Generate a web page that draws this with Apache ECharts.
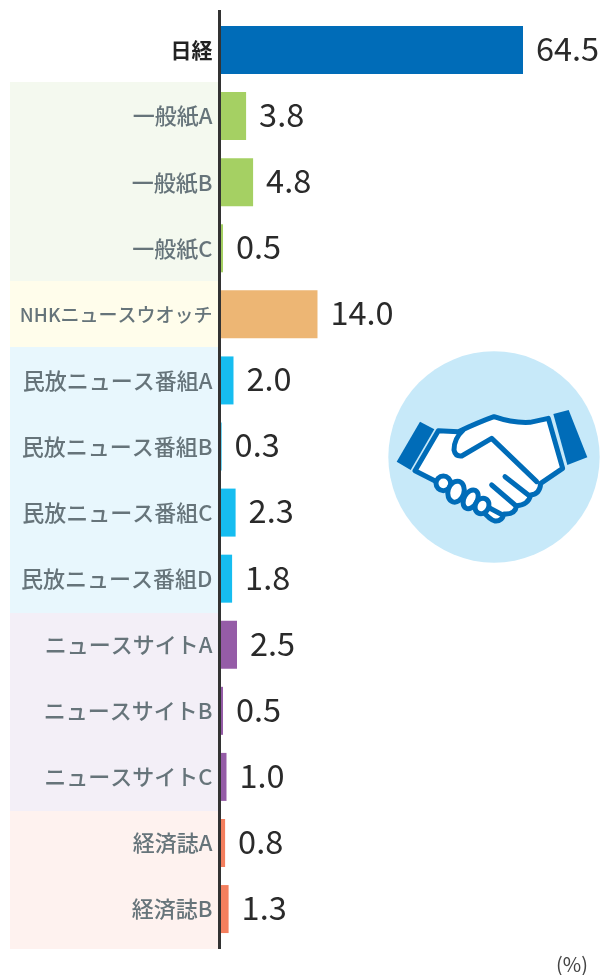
<!DOCTYPE html>
<html><head><meta charset="utf-8">
<style>html,body{margin:0;padding:0;background:#fff}#c{width:603px;height:975px}</style>
<script src="https://cdn.jsdelivr.net/npm/echarts@6/dist/echarts.min.js"></script>
</head><body><div id="c"></div>
<script>
const categories=['日経','一般紙A','一般紙B','一般紙C','NHKニュースウオッチ','民放ニュース番組A','民放ニュース番組B','民放ニュース番組C','民放ニュース番組D','ニュースサイトA','ニュースサイトB','ニュースサイトC','経済誌A','経済誌B'];
const values=[64.5,3.8,4.8,0.5,14.0,2.0,0.3,2.3,1.8,2.5,0.5,1.0,0.8,1.3];
const barColors=['#006cb8','#a5d063','#a5d063','#a5d063','#edb674','#16bdf0','#16bdf0','#16bdf0','#16bdf0','#955ca7','#955ca7','#955ca7','#f47f5e','#f47f5e'];
const axisCut=43.36; // the longest bar is cut short at the edge of the plot
const unitLabel='(%)';
const font='"Noto Sans CJK JP","Noto Sans",sans-serif';
const bands=[[82,281,'#f4f9ef'],[281,347,'#fffdeb'],[347,613,'#e8f7fd'],[613,811,'#f3eff7'],[811,949,'#fef2ef']];
const B='#006cb8';
const SW=15;
const st={fill:'#fff',stroke:B,lineWidth:SW,lineJoin:'round',lineCap:'round'};
echarts.graphic.registerShape('handBody',echarts.graphic.extendPath('M175,272 L235,275 Q300,245 342,230 Q400,250 450,247 L505,235 L548,385 L482,430 Q480,462 452,465 Q445,495 410,497 Q405,525 372,522 Q365,545 345,543 Q330,540 300,505 L170,425 L105,392 Z',{}));
echarts.graphic.registerShape('handThumb',echarts.graphic.extendPath('M250,270 Q222,295 222,330 Q226,350 245,348 L335,295 L470,425',{}));
echarts.graphic.registerShape('handLines',echarts.graphic.extendPath('M375,410 L445,465 M335,435 L405,495 M330,505 L368,525',{}));
const knuckle=(cx,cy,rx,ry,rot)=>({type:'ellipse',x:cx,y:cy,rotation:rot,shape:{cx:0,cy:0,rx,ry},style:st});
const icon=[
 {type:'circle',shape:{cx:342,cy:351,r:317},style:{fill:'#c7e9f9'}},
 {type:'polygon',shape:{points:[[120,245],[163,268],[92,390],[50,365]]},style:{fill:B}},
 {type:'polygon',shape:{points:[[520,222],[566,210],[622,352],[562,375]]},style:{fill:B}},
 {type:'handBody',style:st},
 {type:'handThumb',style:st},
 {type:'handLines',style:{fill:'none',stroke:B,lineWidth:SW,lineCap:'round'}},
 knuckle(190,430,22,22,0),knuckle(228,455,24,32,-0.3),knuckle(272,478,20,30,-0.5),knuckle(306,498,20,24,-0.5)
];
const chart=echarts.init(document.getElementById('c'),null,{renderer:'canvas'});
chart.setOption({
 animation:false,
 backgroundColor:'#fff',
 grid:{left:219.5,right:80,top:17,height:925.1,outerBoundsMode:'none'},
 xAxis:{type:'value',min:0,max:axisCut,show:false},
 yAxis:{type:'category',inverse:true,
  data:categories.map((c,i)=>i===0?{value:c,textStyle:{color:'#222',fontWeight:700,fontSize:21}}
    :c.startsWith('NHK')?{value:c,textStyle:{fontSize:19}}:c),
  axisTick:{show:false},
  axisLine:{show:true,lineStyle:{color:'#333',width:3}},
  axisLabel:{margin:7,fontSize:22,fontFamily:font,color:'#66747a',fontWeight:500,padding:[0,0,3,0]}},
 series:[{type:'bar',barWidth:48,clip:true,
  data:values.map((v,i)=>({value:v,itemStyle:{color:barColors[i]}})),
  label:{show:true,position:'right',distance:13,offset:[0,-1.5],fontFamily:font,fontSize:32.5,fontWeight:400,color:'#2a2a2a',
   formatter:p=>p.value.toFixed(1)}}],
 graphic:[
  ...bands.map(b=>({type:'rect',z:-10,shape:{x:10,y:b[0],width:208,height:b[1]-b[0]},style:{fill:b[2]}})),
  {type:'line',z:5,shape:{x1:219.5,y1:10,x2:219.5,y2:949},style:{stroke:'#333',lineWidth:3}},
  {type:'text',z:5,x:556,y:954,style:{text:unitLabel,font:'400 20px '+font,fill:'#444'}},
  {type:'group',z:5,x:380,y:340,scaleX:1/3,scaleY:1/3,children:icon}
 ]
});
</script></body></html>
